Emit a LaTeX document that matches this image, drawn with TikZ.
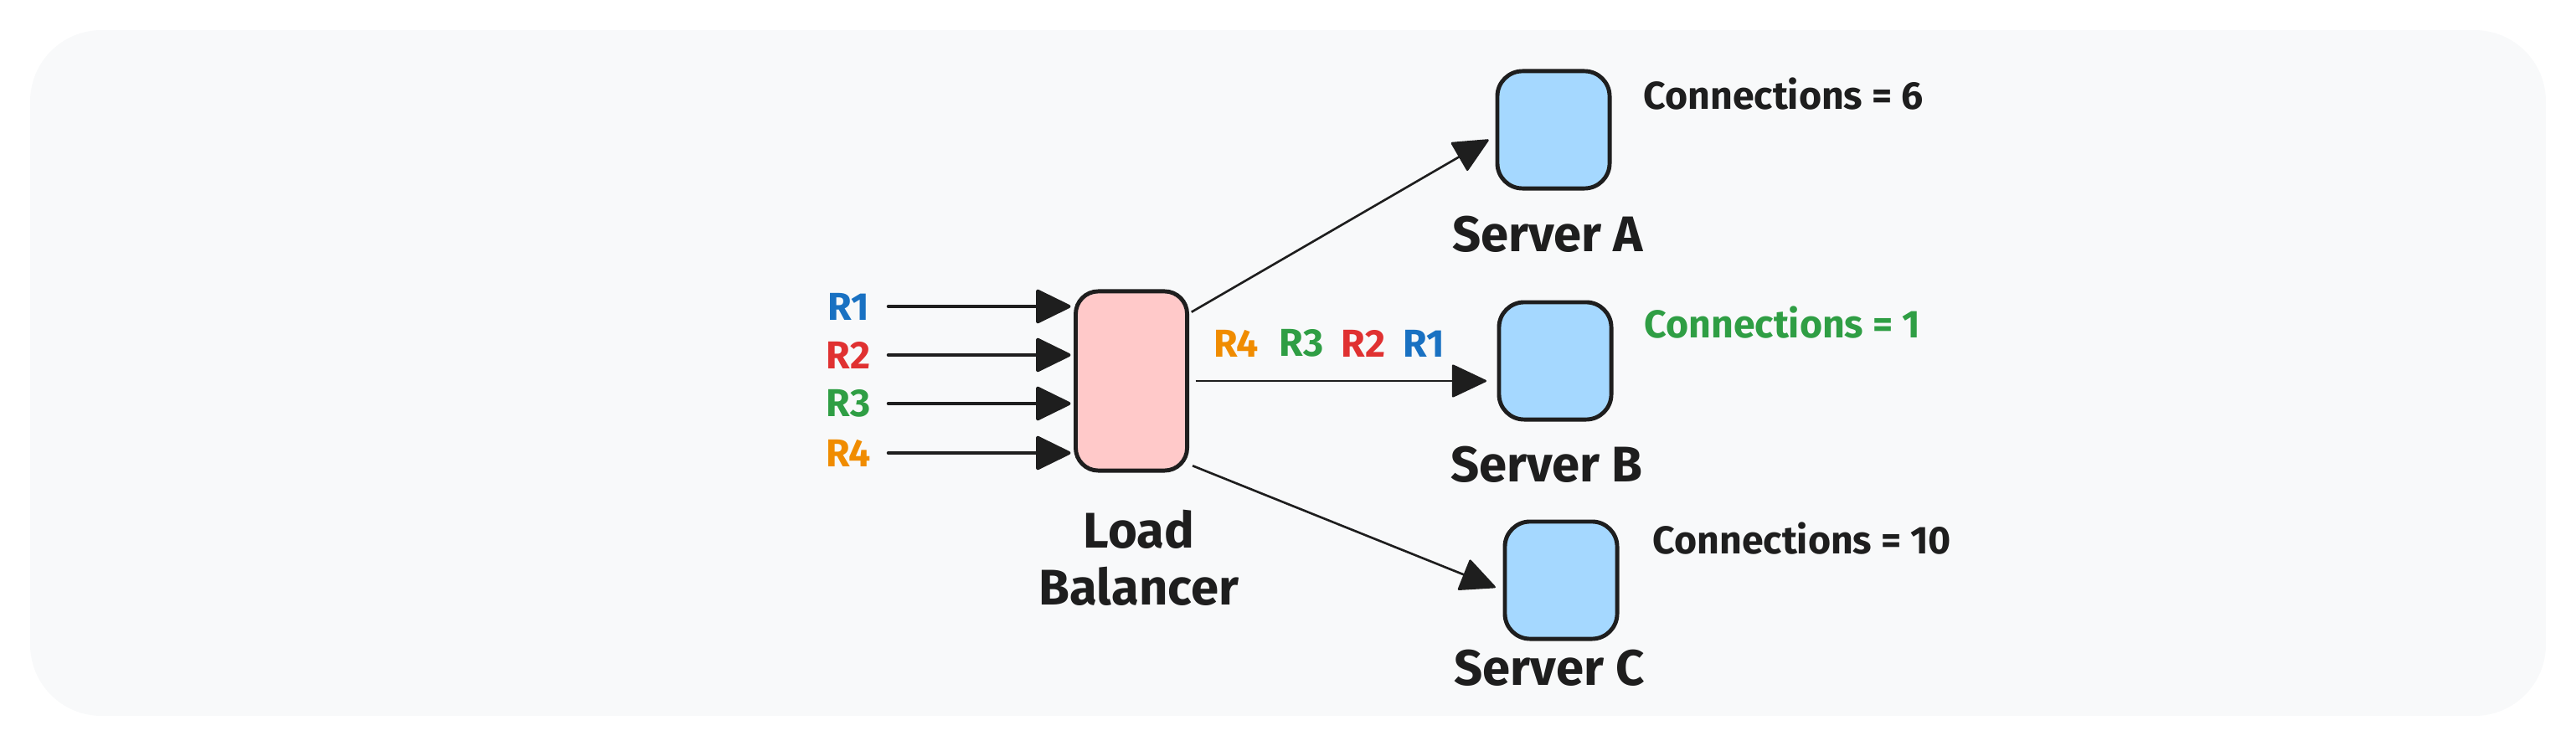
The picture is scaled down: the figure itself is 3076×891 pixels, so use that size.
\documentclass[tikz,border=0pt]{standalone}
\usepackage{fontspec}
\setmainfont{Fira Sans}
\usetikzlibrary{arrows.meta}
\definecolor{ink}{HTML}{1E1E1E}
\definecolor{canvas}{HTML}{F8F9FA}
\definecolor{lbfill}{HTML}{FFC9C9}
\definecolor{srvfill}{HTML}{A5D8FF}
\definecolor{rblue}{HTML}{1971C2}
\definecolor{rred}{HTML}{E03131}
\definecolor{rgreen}{HTML}{2F9E44}
\definecolor{rorange}{HTML}{F08C00}

\begin{document}
\begin{tikzpicture}[x=0.01cm, y=-0.01cm,
    box/.style={draw=ink, line width=1.4pt, inner sep=0pt, outer sep=0pt},
    balancer/.style={box, fill=lbfill, minimum width=1.33cm,
                     minimum height=2.14cm, rounded corners=0.27cm},
    server/.style={box, fill=srvfill, minimum width=1.34cm,
                   minimum height=1.40cm, rounded corners=0.3cm},
    req/.style={text=#1, font=\fontsize{13.2}{15}\selectfont\bfseries,
                inner sep=0pt, minimum width=0.9cm},
    conn/.style={text=#1, font=\fontsize{13.2}{15}\selectfont\bfseries,
                 inner sep=0pt, anchor=west},
    namelbl/.style={text=ink, font=\fontsize{17}{19.4}\selectfont\bfseries,
                    inner sep=0pt, align=center},
    feed/.style={draw=ink, line width=1.15pt, line cap=round,
                 -{Triangle[length=0.44cm, width=0.42cm, round]}},
    route/.style={draw=ink, line width=0.75pt,
                  -{Triangle[length=0.43cm, width=0.40cm, round]}}
]
\useasboundingbox (0,0) rectangle (3076,891);
\fill[canvas, rounded corners=0.85cm] (36,36) rectangle (3040,855);

% boxes
\node[balancer] (lb) at (1351,455) {};
\node[server] (srvA) at (1855,155) {};
\node[server] (srvB) at (1857,431) {};
\node[server] (srvC) at (1864,693) {};

% labels
\node[namelbl] (lbname) at (1360,666) {Load\\Balancer};
\node[namelbl] (nameA) at (1848,280) {Server A};
\node[namelbl] (nameB) at (1847,555) {Server B};
\node[namelbl] (nameC) at (1850,798) {Server C};

\node[conn=ink] (cntA) at (1962,112) {Connections = 6};
\node[conn=rgreen] (cntB) at (1963,385) {Connections = 1};
\node[conn=ink] (cntC) at (1973,643) {Connections = 10};

% incoming requests
\node[req=rblue] (r1) at (1013,366) {R1};
\node[req=rred] (r2) at (1013,424) {R2};
\node[req=rgreen] (r3) at (1013,482) {R3};
\node[req=rorange] (r4) at (1013,541) {R4};

\draw[feed, shorten <=0.02cm, shorten >=0.06cm] (r1.east) -- (r1.east -| lb.west);
\draw[feed, shorten <=0.02cm, shorten >=0.06cm] (r2.east) -- (r2.east -| lb.west);
\draw[feed, shorten <=0.02cm, shorten >=0.06cm] (r3.east) -- (r3.east -| lb.west);
\draw[feed, shorten <=0.02cm, shorten >=0.06cm] (r4.east) -- (r4.east -| lb.west);

% queue towards server B
\node[req=rorange] (q4) at (1476,410) {R4};
\node[req=rgreen] (q3) at (1554,410) {R3};
\node[req=rred] (q2) at (1628,410) {R2};
\node[req=rblue] (q1) at (1700,410) {R1};

% routes
\draw[route, shorten <=0.06cm, shorten >=0.12cm] (lb.50) -- (srvA.185);
\draw[route, shorten <=0.1cm, shorten >=0.15cm] (lb.east) -- (lb.east -| srvB.west);
\draw[route, shorten <=0.07cm, shorten >=0.12cm] (lb.-56) -- (srvC.191);

\end{tikzpicture}
\end{document}
